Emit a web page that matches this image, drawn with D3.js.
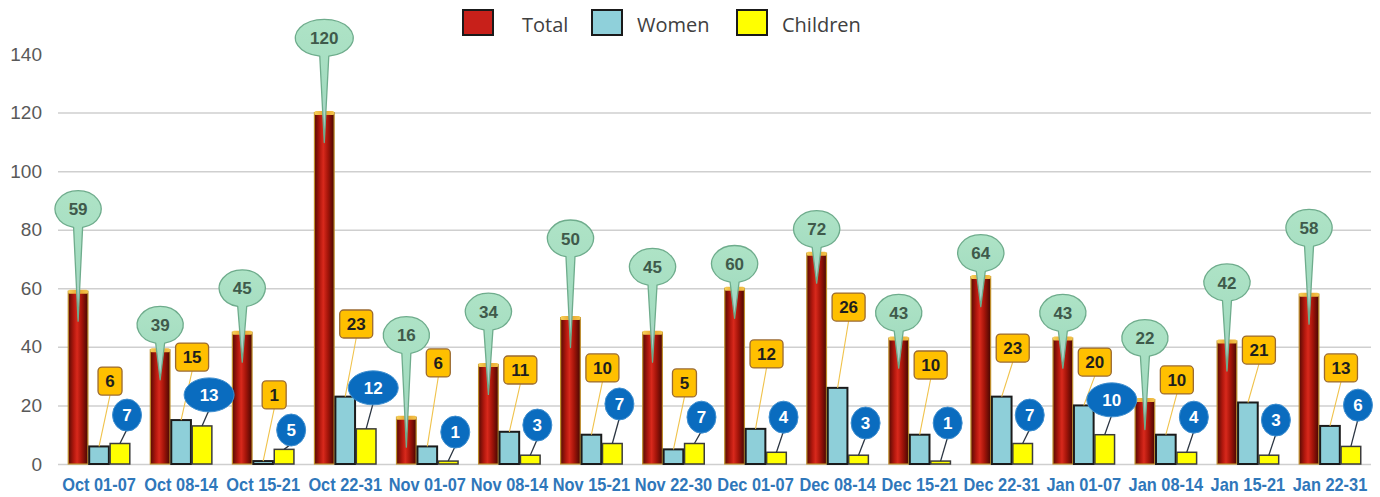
<!DOCTYPE html>
<html>
<head>
<meta charset="utf-8">
<script src="https://d3js.org/d3.v7.min.js"></script>
<style>
body { margin: 0; background: #fff; }
text { font-family: 'Liberation Sans', Arial, sans-serif; }
</style>
</head>
<body>
<div id="chart"></div>
<script>
var categories = ['Oct 01-07', 'Oct 08-14', 'Oct 15-21', 'Oct 22-31', 'Nov 01-07', 'Nov 08-14', 'Nov 15-21', 'Nov 22-30',
    'Dec 01-07', 'Dec 08-14', 'Dec 15-21', 'Dec 22-31', 'Jan 01-07', 'Jan 08-14', 'Jan 15-21', 'Jan 22-31'];
var total = [59, 39, 45, 120, 16, 34, 50, 45, 60, 72, 43, 64, 43, 22, 42, 58];
var women = [6, 15, 1, 23, 6, 11, 10, 5, 12, 26, 10, 23, 20, 10, 21, 13];
var children = [7, 13, 5, 12, 1, 3, 7, 7, 4, 3, 1, 7, 10, 4, 3, 6];
var seriesNames = ['Total', 'Women', 'Children'];
var yTicks = [0, 20, 40, 60, 80, 100, 120, 140];

// callout heights (chart units), they were dragged by hand in the original
var totalCallout = [87, 47.5, 60, 145.5, 44, 52, 77, 67.3, 68.3, 80.2, 51.6, 72, 51.6, 43, 62, 80.6];
var womenCallout = [28.3, 36.5, 23.6, 47.8, 34.5, 32.1, 32.8, 27.7, 37.6, 53.6, 33.8, 39.6, 34.8, 28.7, 38.9, 32.8];
var childCallout = [16.7, 23.6, 11.6, 26, 10.9, 13.3, 20.5, 16, 16, 14, 14, 16.7, 21.9, 16, 15, 20.1];

var W = 1380, H = 497;
var plotLeft = 58, plotRight = 1371, plotBottom = 464, plotTop = 54;

function svgr(id, w, h) {
    return d3.select(id)
        .append('svg')
        .attr('width', w)
        .attr('height', h)
        .attr('xmlns', 'http://www.w3.org/2000/svg');
}

function defs(svg) {
    var d = svg.append('defs');
    var g = d.append('linearGradient').attr('id', 'totalFill')
        .attr('x1', 0).attr('x2', 1).attr('y1', 0).attr('y2', 0);
    [['0%', '#560b04'], ['28%', '#b3180e'], ['45%', '#d8291c'], ['68%', '#a5150a'], ['100%', '#470702']]
        .forEach((s) => g.append('stop').attr('offset', s[0]).attr('stop-color', s[1]));
    var c = d.append('linearGradient').attr('id', 'capFill')
        .attr('x1', 0).attr('x2', 1).attr('y1', 0).attr('y2', 0);
    [['0%', '#f7d35a'], ['50%', '#e9a22e'], ['100%', '#f3c64c']]
        .forEach((s) => c.append('stop').attr('offset', s[0]).attr('stop-color', s[1]));
    var m = d.append('linearGradient').attr('id', 'greenFill')
        .attr('x1', 0).attr('x2', 0).attr('y1', 0).attr('y2', 1);
    [['0%', '#aee3c6'], ['60%', '#a3dcc0'], ['100%', '#b7cbd6']]
        .forEach((s) => m.append('stop').attr('offset', s[0]).attr('stop-color', s[1]));
}

function plot() {
    var svg = svgr('#chart', W, H);
    defs(svg);

    var x0 = d3.scaleBand().domain(categories).range([plotLeft, plotRight])
        .paddingInner(0.25).paddingOuter(0.125);
    var x1 = d3.scaleBand().domain(seriesNames).range([0, x0.bandwidth()]).paddingInner(0.06);
    var y = d3.scaleLinear().domain([0, 140]).range([plotBottom, plotTop]);
    var bw = x1.bandwidth();
    var mid = (c, s) => x0(c) + x1(s) + bw / 2;
    var groupMid = (c) => x0(c) + x0.bandwidth() / 2;

    // y axis + grid
    var ya = svg.append('g')
        .attr('transform', `translate(${plotLeft},0)`)
        .call(d3.axisLeft(y).tickValues(yTicks).tickSize(-(plotRight - plotLeft)).tickPadding(16));
    ya.select('.domain').remove();
    ya.selectAll('.tick line').attr('stroke', '#cfcfcf').attr('stroke-width', 1.5)
        .filter((d) => d === 140).remove();
    ya.selectAll('.tick text').attr('fill', '#595959').style('font-size', '19px');

    // x axis
    var xa = svg.append('g')
        .attr('transform', `translate(0,${plotBottom})`)
        .call(d3.axisBottom(x0).tickSize(0).tickPadding(14));
    xa.select('.domain').remove();
    xa.selectAll('.tick text').attr('fill', '#2f77ba').style('font-size', '18px')
        .style('font-weight', 'bold').attr('transform', 'scale(0.91,1)');

    // bars
    svg.append('g').selectAll('rect')
        .data(categories)
        .enter().append('rect')
        .attr('x', (c) => x0(c) + x1('Total'))
        .attr('y', (c, i) => y(total[i]))
        .attr('width', bw)
        .attr('height', (c, i) => plotBottom - y(total[i]))
        .attr('fill', 'url(#totalFill)')
        .attr('stroke', '#bf8f2c')
        .attr('stroke-width', 1.2);
    svg.append('g').selectAll('rect')
        .data(categories)
        .enter().append('rect')
        .attr('x', (c) => x0(c) + x1('Total'))
        .attr('y', (c, i) => y(total[i]) - 1.5)
        .attr('width', bw)
        .attr('height', 4)
        .attr('rx', 1.5)
        .attr('fill', 'url(#capFill)');
    svg.append('g').selectAll('rect')
        .data(categories)
        .enter().append('rect')
        .attr('x', (c) => x0(c) + x1('Women'))
        .attr('y', (c, i) => y(women[i]))
        .attr('width', bw)
        .attr('height', (c, i) => plotBottom - y(women[i]))
        .attr('fill', '#8ecfd9')
        .attr('stroke', '#1b1b1b')
        .attr('stroke-width', 2);
    svg.append('g').selectAll('rect')
        .data(categories)
        .enter().append('rect')
        .attr('x', (c) => x0(c) + x1('Children'))
        .attr('y', (c, i) => y(children[i]))
        .attr('width', bw)
        .attr('height', (c, i) => plotBottom - y(children[i]))
        .attr('fill', '#ffff00')
        .attr('stroke', '#3c3c3c')
        .attr('stroke-width', 1.5);

    // women callouts (orange boxes)
    var wc = svg.append('g').selectAll('g')
        .data(categories)
        .enter().append('g');
    wc.append('line')
        .attr('x1', (c) => groupMid(c) + 11)
        .attr('y1', (c, i) => y(womenCallout[i]) + 14)
        .attr('x2', (c) => mid(c, 'Women'))
        .attr('y2', (c, i) => y(women[i]))
        .attr('stroke', '#f0c24a')
        .attr('stroke-width', 1.1);
    wc.append('rect')
        .attr('x', (c, i) => groupMid(c) + 11 - (String(women[i]).length > 1 ? 16.5 : 12))
        .attr('y', (c, i) => y(womenCallout[i]) - 14)
        .attr('width', (c, i) => String(women[i]).length > 1 ? 33 : 24)
        .attr('height', 28)
        .attr('rx', 4)
        .attr('fill', '#ffc000')
        .attr('stroke', '#9a6a32')
        .attr('stroke-width', 1.3);
    wc.append('text')
        .attr('x', (c) => groupMid(c) + 11)
        .attr('y', (c, i) => y(womenCallout[i]))
        .attr('dy', '0.36em')
        .attr('text-anchor', 'middle')
        .attr('fill', '#1e1e1e')
        .style('font-size', '17px')
        .style('font-weight', 'bold')
        .text((c, i) => women[i]);

    // children callouts (blue ovals)
    var cc = svg.append('g').selectAll('g')
        .data(categories)
        .enter().append('g');
    var crx = (i) => String(children[i]).length > 1 ? 25 : 14.5;
    var cry = (i) => String(children[i]).length > 1 ? 17 : 16;
    cc.append('line')
        .attr('x1', (c) => groupMid(c) + 28)
        .attr('y1', (c, i) => y(childCallout[i]) + cry(i) - 2)
        .attr('x2', (c) => mid(c, 'Children'))
        .attr('y2', (c, i) => y(children[i]))
        .attr('stroke', '#2b3542')
        .attr('stroke-width', 1.3);
    cc.append('ellipse')
        .attr('cx', (c) => groupMid(c) + 28)
        .attr('cy', (c, i) => y(childCallout[i]))
        .attr('rx', (c, i) => crx(i))
        .attr('ry', (c, i) => cry(i))
        .attr('fill', '#0a6cbf')
        .attr('stroke', '#3f8fd0')
        .attr('stroke-width', 1);
    cc.append('text')
        .attr('x', (c) => groupMid(c) + 28)
        .attr('y', (c, i) => y(childCallout[i]))
        .attr('dy', '0.36em')
        .attr('text-anchor', 'middle')
        .attr('fill', '#ffffff')
        .style('font-size', '17px')
        .style('font-weight', 'bold')
        .text((c, i) => children[i]);

    // total callouts (green speech bubbles)
    var tc = svg.append('g').selectAll('g')
        .data(categories)
        .enter().append('g');
    tc.append('path')
        .attr('d', (c, i) => {
            var cx = mid(c, 'Total');
            var cy = y(totalCallout[i]);
            var rx = String(total[i]).length > 2 ? 29 : 23;
            var ry = 18.5;
            var w = 4.5;
            var yb = cy + ry * Math.sqrt(1 - (w / rx) * (w / rx));
            var tip = y(total[i]) + 30;
            return `M${cx - w},${yb} A${rx},${ry} 0 1 1 ${cx + w},${yb} L${cx},${tip} Z`;
        })
        .attr('fill', 'url(#greenFill)')
        .attr('stroke', '#6eac8c')
        .attr('stroke-width', 1.3)
        .attr('stroke-linejoin', 'round');
    tc.append('text')
        .attr('x', (c) => mid(c, 'Total'))
        .attr('y', (c, i) => y(totalCallout[i]))
        .attr('dy', '0.36em')
        .attr('text-anchor', 'middle')
        .attr('fill', '#3f5a4b')
        .style('font-size', '17px')
        .style('font-weight', 'bold')
        .text((c, i) => total[i]);

    // legend
    var legendX = [463, 592, 737];
    var legendFill = ['#c8201a', '#8fd0da', '#ffff00'];
    var lg = svg.append('g').selectAll('g')
        .data(seriesNames)
        .enter().append('g')
        .attr('transform', (s, i) => `translate(${legendX[i]},10)`);
    lg.append('rect')
        .attr('width', 30)
        .attr('height', 25)
        .attr('fill', (s, i) => legendFill[i])
        .attr('stroke', '#1a1a1a')
        .attr('stroke-width', 2);
    lg.append('text')
        .attr('x', (s, i) => i === 0 ? 59 : 45)
        .attr('y', 22)
        .attr('fill', '#404040')
        .style('font-family', "'Open Sans', sans-serif")
        .style('font-size', '20px')
        .text((s) => s);
}

plot();
</script>
</body>
</html>
